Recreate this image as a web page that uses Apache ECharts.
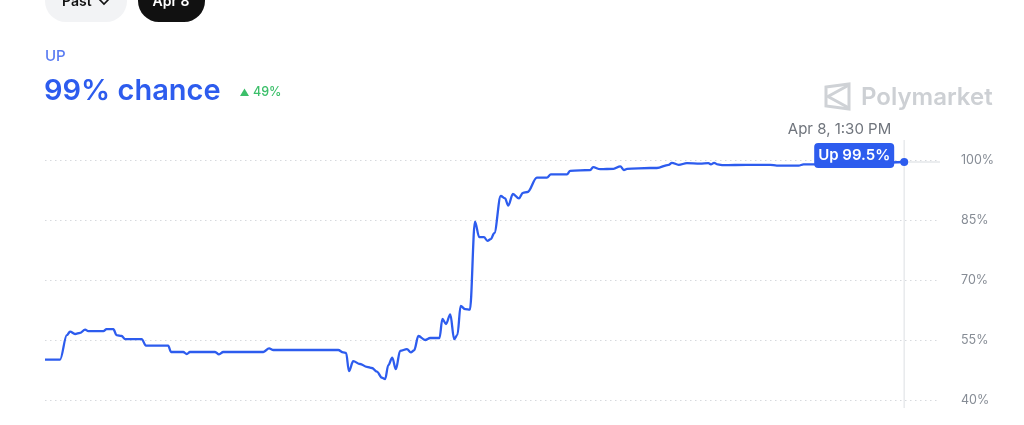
<!DOCTYPE html>
<html>
<head>
<meta charset="utf-8">
<script src="https://cdn.jsdelivr.net/npm/echarts@6/dist/echarts.min.js"></script>
<style>
html,body{margin:0;padding:0;background:#fff;}
#c{width:1024px;height:425px;}
</style>
</head>
<body>
<div id="c"></div>
<script>
// hours since Apr 7, 1:30 PM
const times = [0,0.42,0.61,0.70,0.84,0.98,1.12,1.21,1.63,1.72,1.91,2.00,2.14,2.24,2.70,2.82,3.44,3.52,3.86,3.96,4.05,4.75,4.86,4.98,6.10,6.26,6.38,8.19,8.33,8.41,8.49,8.61,8.80,8.99,9.13,9.27,9.41,9.50,9.59,9.70,9.80,9.92,10.11,10.22,10.31,10.43,10.62,10.76,11.02,11.10,11.20,11.32,11.43,11.52,11.61,11.74,11.87,12.01,12.13,12.26,12.36,12.45,12.55,12.73,12.85,12.94,13.07,13.24,13.35,13.48,13.74,14.02,14.13,14.58,14.67,15.23,15.31,15.51,15.88,16.07,16.17,16.26,16.90,17.09,17.42,17.51,17.70,17.93,18.30,18.53,18.60,18.69,18.79,18.95,19.60,20.26,20.44,21.05,21.19,21.46,21.93,22.77,24.0];
const values = [50.1,50.1,56.2,57.1,56.5,56.8,57.6,57.2,57.2,57.7,57.7,56.2,56.0,55.2,55.2,53.6,53.6,52.0,52.0,51.5,52.0,52.0,51.4,52.0,52.0,52.9,52.5,52.5,51.9,51.8,47.2,49.7,49.0,48.3,48.0,47.1,45.6,45.2,48.7,50.6,47.7,52.3,52.7,51.9,52.4,56.0,55.0,55.5,55.5,60.3,59.0,61.4,55.2,56.3,63.5,62.7,62.6,84.6,80.7,80.7,79.8,80.2,81.7,91.0,90.4,88.6,91.5,90.4,91.8,92.0,95.6,95.6,96.4,96.4,97.3,97.5,98.2,97.7,97.8,98.4,97.5,97.8,98.0,98.0,98.8,99.3,98.8,99.2,99.1,99.2,98.9,99.3,98.9,98.7,98.8,98.8,98.6,98.6,98.9,98.9,99.0,99.2,99.5];
const yTicks = [40,55,70,85,100];
const xMax = 25;
const outcome = "UP";
const headline = "99% chance";
const change = "49%";
const lastLabel = "Apr 8, 1:30 PM";
const tipLabel = "Up 99.5%";

const BLUE = '#2d5cee';
const chart = echarts.init(document.getElementById('c'), null, {renderer:'canvas'});
const data = times.map((t,i)=>[t, values[i]]);
const last = data[data.length-1];

chart.setOption({
  animation:false,
  backgroundColor:'#ffffff',
  grid:{left:45,right:84,top:160,bottom:25},
  xAxis:{type:'value',min:0,max:xMax,show:false},
  yAxis:{type:'value',position:'right',min:yTicks[0],max:yTicks[yTicks.length-1],interval:15,
    axisLine:{show:false},axisTick:{show:false},
    axisLabel:{formatter:v=>v+'%',margin:21,color:'#868c95',fontSize:12.5,fontFamily:'Inter'},
    splitLine:{show:true,lineStyle:{color:'#d6d9dd',width:1,type:[1.5,3.5]}}
  },
  series:[{
    type:'line',data:data,smooth:0.35,smoothMonotone:'x',symbol:'none',
    lineStyle:{color:BLUE,width:2.3},
    markPoint:{symbol:'circle',symbolSize:8,itemStyle:{color:BLUE},label:{show:false},
      data:[{coord:last}]}
  }]
});

const p = chart.convertToPixel({gridIndex:0}, last);
const pEnd = chart.convertToPixel({gridIndex:0}, [xMax, last[1]]);
const pBottom = chart.convertToPixel({gridIndex:0}, [last[0], yTicks[0]]);

chart.setOption({graphic:[
  // top buttons
  {type:'rect',shape:{x:45,y:-20,width:82,height:42,r:21},style:{fill:'#f2f3f5'}},
  {type:'text',style:{x:62,y:2,text:'Past',font:'600 14px Inter',fill:'#111',textVerticalAlign:'middle'}},
  {type:'polyline',shape:{points:[[99,-1],[104,4],[109,-1]]},style:{stroke:'#111',lineWidth:1.6,fill:null}},
  {type:'rect',shape:{x:138,y:-20,width:67,height:42,r:21},style:{fill:'#111111'}},
  {type:'text',style:{x:171,y:2,text:'Apr 8',font:'600 14px Inter',fill:'#fff',textAlign:'center',textVerticalAlign:'middle'}},
  // heading
  {type:'text',style:{x:45,y:56,text:outcome,font:'500 15px Inter',fill:'#5a7cf2',textVerticalAlign:'middle'}},
  {type:'text',style:{x:44,y:91,text:headline,font:'600 29px Inter',fill:BLUE,textVerticalAlign:'middle'}},
  {type:'polygon',shape:{points:[[240,96],[244.5,88.5],[249,96]]},style:{fill:'#3cbf6a'}},
  {type:'text',style:{x:253,y:92.5,text:change,font:'500 12.5px Inter',fill:'#3cbf6a',textVerticalAlign:'middle'}},
  // watermark
  {type:'polygon',shape:{points:[[826,87],[849,84],[849,109],[826,106]]},style:{fill:null,stroke:'#cfd2d6',lineWidth:3}},
  {type:'polyline',shape:{points:[[849,85],[828,96.5],[849,108]]},style:{fill:null,stroke:'#cfd2d6',lineWidth:3}},
  {type:'text',style:{x:861,y:98,text:'Polymarket',font:'600 24px Inter',fill:'#cdd0d4',textVerticalAlign:'middle'}},
  // hover guide
  {type:'line',shape:{x1:p[0],y1:140,x2:pBottom[0],y2:pBottom[1]+8},style:{stroke:'#e8eaed',lineWidth:1.5},z:-1},
  {type:'line',shape:{x1:p[0],y1:p[1],x2:pEnd[0],y2:p[1]},style:{stroke:'#e5e7ea',lineWidth:1.5},z:-1},
  {type:'text',style:{x:p[0]-13,y:129,text:lastLabel,font:'400 15px Inter',fill:'#6f747c',textAlign:'right',textVerticalAlign:'middle'}},
  {type:'rect',shape:{x:p[0]-90,y:143,width:80,height:25,r:4},style:{fill:BLUE}},
  {type:'text',style:{x:p[0]-50,y:155.5,text:tipLabel,font:'600 15px Inter',fill:'#fff',textAlign:'center',textVerticalAlign:'middle'}}
]});
</script>
</body>
</html>
